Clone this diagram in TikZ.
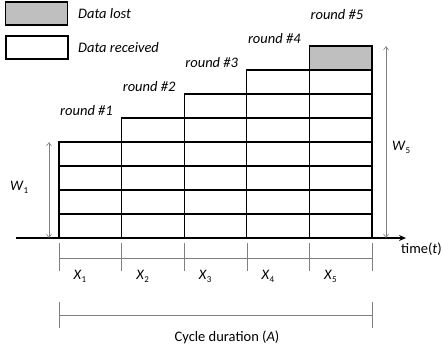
\documentclass[tikz,border=0pt]{standalone}
\usepackage{fontspec}
\setmainfont{Carlito}
\usetikzlibrary{arrows.meta}
\definecolor{lostgray}{HTML}{BFBFBF}
\definecolor{dimgray}{HTML}{7F7F7F}
\newcommand{\mysub}[1]{\raisebox{-3pt}{\fontsize{9}{10}\selectfont #1}}
\tikzset{
  cellbox/.style={draw=black, line width=1.1pt, fill=white},
  lostbox/.style={draw=black, line width=1.1pt, fill=lostgray},
  legbox/.style={draw=black, line width=1.1pt, minimum width=62pt, minimum height=23pt, inner sep=0pt, outer sep=0pt},
  legtext/.style={anchor=west, inner sep=0pt, font=\fontsize{14.5}{16}\selectfont\itshape},
  roundlbl/.style={anchor=west, inner sep=0pt, font=\fontsize{14.5}{16}\selectfont\itshape},
  xlbl/.style={inner sep=0pt, font=\fontsize{14.5}{16}\selectfont},
  gtick/.style={draw=dimgray, line width=0.6pt},
  dimarrow/.style={draw=dimgray, line width=0.6pt, {Straight Barb[length=3.5pt,width=5pt]}-{Straight Barb[length=3.5pt,width=5pt]}},
  axisline/.style={draw=black, line width=1.2pt, -{Stealth[length=7pt,width=6pt]}}
}
\begin{document}
\begin{tikzpicture}[x=1pt,y=-1pt]
\useasboundingbox (0,0) rectangle (442,349);
% legend
\node[legbox, fill=lostgray] (leglost) at (36.5,13.5) {};
\node[legbox, fill=white] (legrecv) at (37,47.5) {};
\node[legtext] (legtlost) at (78,14) {Data lost};
\node[legtext] (legtrecv) at (78,48) {Data received};
% cells
\foreach \i in {1,...,5}{
  \pgfmathsetmacro{\xl}{59+62.6*(\i-1)}
  \pgfmathtruncatemacro{\nr}{\i+3}
  \foreach \j in {1,...,\nr}{
    \pgfmathsetmacro{\yb}{238-24*(\j-1)}
    \ifnum\i=5 \ifnum\j=8
      \draw[lostbox] (\xl,\yb) rectangle ++(62.6,-24);
    \else
      \draw[cellbox] (\xl,\yb) rectangle ++(62.6,-24);
    \fi\else
      \draw[cellbox] (\xl,\yb) rectangle ++(62.6,-24);
    \fi
  }
  \pgfmathsetmacro{\yl}{111-24*(\i-1)}
  \node[roundlbl] (r\i) at (\xl+1,\yl) {round \#\i};
}
% axis
\coordinate (axL) at (16,238);
\coordinate (axR) at (406,238);
\draw[axisline] (axL) -- (axR);
\node[anchor=west, inner sep=0pt, font=\fontsize{14.5}{16}\selectfont] (tlbl) at (401,249) {time(\textit{t})};
% dimension arrows
\coordinate (w1t) at (49,142);
\coordinate (w1b) at (49,238);
\draw[dimarrow] (w1t) -- (w1b);
\node[xlbl, anchor=west] (w1) at (10,187) {\textit{W}\mysub{1}};
\coordinate (w5t) at (386,46);
\coordinate (w5b) at (386,238);
\draw[dimarrow] (w5t) -- (w5b);
\node[xlbl, anchor=west] (w5) at (392,147) {\textit{W}\mysub{5}};
% ticks
\foreach \k in {0,...,5}{
  \coordinate (tt\k) at (59+62.6*\k,243);
  \coordinate (tb\k) at (59+62.6*\k,271);
  \draw[gtick] (tt\k) -- (tb\k);
}
\coordinate (hl) at (59,258);
\coordinate (hr) at (372,258);
\draw[gtick] (hl) -- (hr);
\foreach \k in {1,...,5}{
  \node[xlbl] (x\k) at (59+62.6*\k-62.6+21,276) {\textit{X}\mysub{\k}};
}
% cycle
\coordinate (cl1) at (59,302);
\coordinate (cl2) at (59,328);
\coordinate (cr1) at (372,302);
\coordinate (cr2) at (372,328);
\draw[gtick] (cl1) -- (cl2);
\draw[gtick] (cr1) -- (cr2);
\coordinate (cml) at (59,315);
\coordinate (cmr) at (372,315);
\draw[gtick] (cml) -- (cmr);
\node[xlbl] (cyc) at (227,337) {Cycle duration (\textit{A})};
\end{tikzpicture}
\end{document}
